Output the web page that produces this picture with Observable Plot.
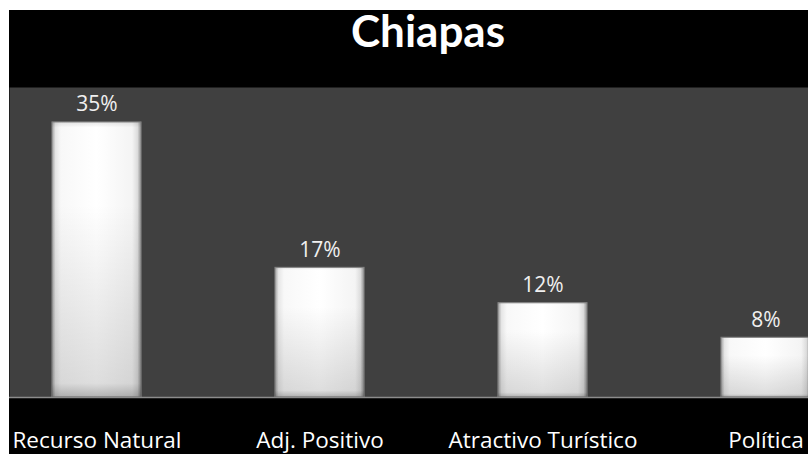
<!DOCTYPE html>
<html><head><meta charset="utf-8">
<script src="https://cdn.jsdelivr.net/npm/d3@7"></script>
<script src="https://cdn.jsdelivr.net/npm/@observablehq/plot@0.6"></script>
<style>
html,body{margin:0;padding:0;background:#fff;overflow:hidden;}
#wrap{width:808px;height:454px;position:relative;overflow:hidden;background:#fff;}
#inner{position:absolute;left:9px;top:10px;width:799px;height:444px;background:#000;}
#title{position:absolute;left:0;top:8px;width:856px;text-align:center;color:#fff;font-family:Lato,"Open Sans",sans-serif;font-weight:700;font-size:44px;line-height:44px;}
#chart{position:absolute;left:9px;top:87px;}
svg{overflow:hidden;}
</style></head>
<body><div id="wrap"><div id="inner"></div><div id="title">Chiapas</div><div id="chart"></div></div>
<script>
const title = "Chiapas";
const categories = ["Recurso Natural", "Adj. Positivo", "Atractivo Turístico", "Política"];
const values = [35.0, 16.5, 12.0, 7.6];
const labels = ["35%", "17%", "12%", "8%"];

const data = categories.map((c, i) => ({category: c, value: values[i], label: labels[i]}));

const chart = Plot.plot({
  width: 799,
  height: 367,
  marginTop: 0,
  marginLeft: 0,
  marginRight: 0,
  marginBottom: 57,
  style: {background: "#000", color: "#fff", fontFamily: "'Open Sans', Lato, sans-serif", overflow: "hidden"},
  x: {domain: categories, range: [-24, 868], paddingInner: 0.6, paddingOuter: 0.3, label: null},
  y: {domain: [0, 39.45], axis: null},
  marks: [
    Plot.frame({fill: "#404040", stroke: null}),
    Plot.barY(data, {x: "category", y: "value", fill: "url(#barGrad)", stroke: "#8a8a8a", strokeWidth: 1}),
    Plot.barY(data, {x: "category", y: "value", fill: "url(#barShade)"}),
    Plot.ruleY([0], {stroke: "#8c8c8c", strokeWidth: 1.5}),
    Plot.text(data, {x: "category", y: "value", text: "label", dy: -11, lineAnchor: "bottom", fill: "#f0f0f0", fontSize: 21}),
    Plot.axisX({tickSize: 0, tickPadding: 0, dy: 50, fontSize: 22.5, fill: "#fff", lineAnchor: "bottom", label: null})
  ]
});

const defs = d3.select(chart).insert("defs", ":first-child");
const g = defs.append("linearGradient").attr("id", "barGrad").attr("x1", "0").attr("x2", "1").attr("y1", "0").attr("y2", "0");
[["0%", "#a0a0a0"], ["4%", "#e6e6e6"], ["10%", "#f8f8f8"], ["50%", "#ffffff"], ["90%", "#f4f4f4"], ["96%", "#dcdcdc"], ["100%", "#909090"]]
  .forEach(([o, c]) => g.append("stop").attr("offset", o).attr("stop-color", c));
const s = defs.append("linearGradient").attr("id", "barShade").attr("x1", "0").attr("x2", "0").attr("y1", "0").attr("y2", "1");
[["0%", "#000", 0.1], ["2%", "#000", 0], ["30%", "#000", 0.0], ["95%", "#000", 0.13], ["100%", "#000", 0.3]]
  .forEach(([o, c, a]) => s.append("stop").attr("offset", o).attr("stop-color", c).attr("stop-opacity", a));

document.getElementById("chart").appendChild(chart);
</script></body></html>
